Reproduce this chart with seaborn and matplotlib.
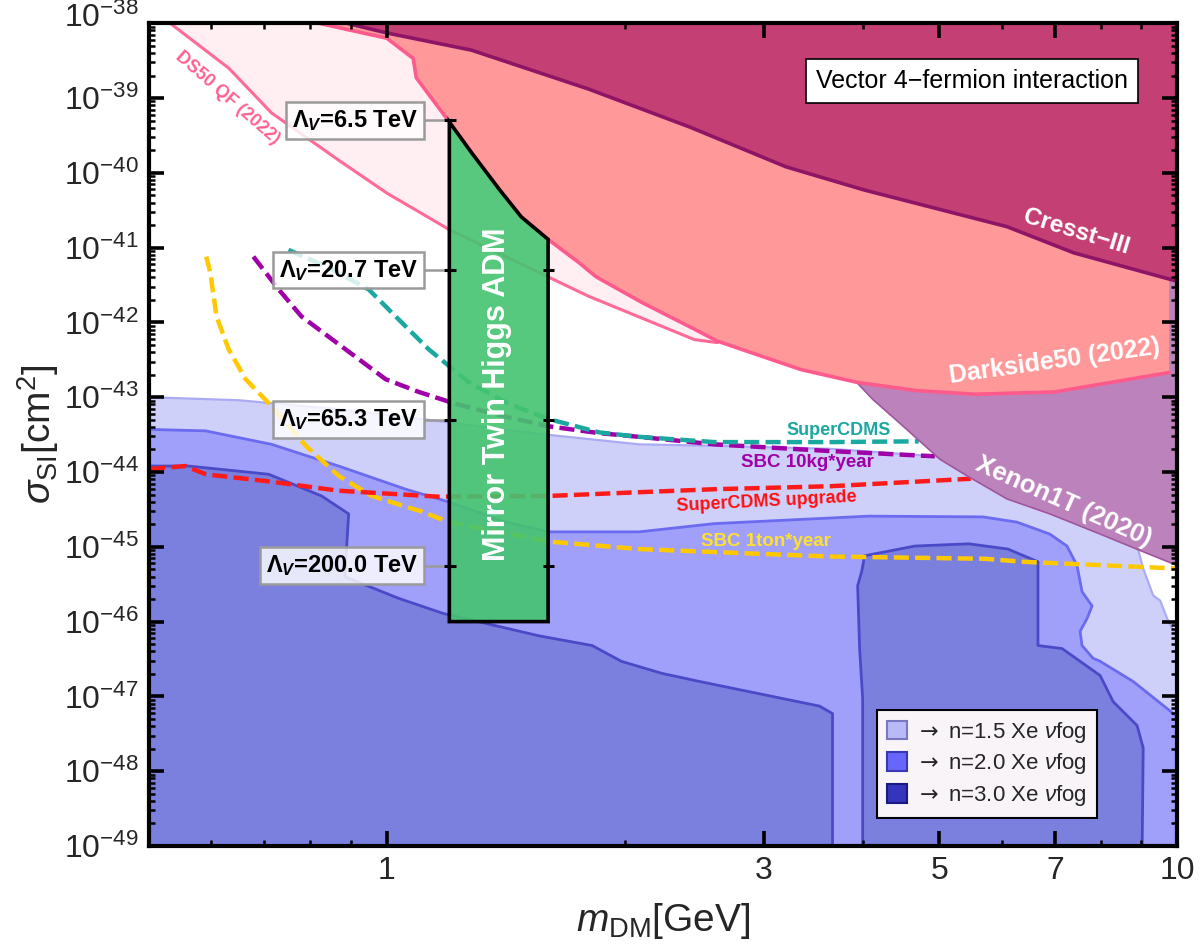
import numpy as np
import matplotlib
matplotlib.use("Agg")
import matplotlib.pyplot as plt
import seaborn as sns
from matplotlib.patches import Patch
from matplotlib.ticker import FixedLocator, FixedFormatter, LogLocator, NullFormatter

# ---------------- data: mass in GeV, log10(sigma / cm^2) ----------------
cresst_m = [0.89, 1.0, 1.28, 1.80, 2.42, 3.20, 4.02, 6.09, 7.40, 10.0]
cresst_ls = [-38.0, -38.13, -38.36, -38.88, -39.39, -39.92, -40.23, -40.72, -41.07, -41.45]

darkside_m = [0.82, 1.0, 1.08, 1.09, 1.20, 1.28, 1.39, 1.48, 1.60, 1.75, 1.84, 2.10,
              2.45, 2.62, 3.34, 3.93, 4.66, 5.55, 6.99, 9.77]
darkside_ls = [-38.0, -38.2, -38.47, -38.73, -39.32, -39.73, -40.23, -40.59, -40.89, -41.2,
               -41.39, -41.73, -42.09, -42.25, -42.63, -42.8, -42.91, -42.96, -42.93, -42.67]

ds50qf_m = [0.532, 0.631, 0.715, 0.869, 1.0, 1.2, 1.80, 2.45, 2.62]
ds50qf_ls = [-38.0, -38.6, -39.2, -39.83, -40.27, -40.76, -41.65, -42.23, -42.27]

xenon_m = [3.53, 3.93, 4.12, 4.46, 5.01, 5.42, 6.09, 6.90, 7.99, 8.98, 10.0]
xenon_ls = [-42.49, -42.8, -43.03, -43.35, -43.83, -44.05, -44.36, -44.56, -44.83, -45.05, -45.25]

fog15_m = [0.5, 0.649, 0.869, 1.164, 1.558, 2.086, 2.597, 3.643, 4.935, 5.967, 7.536,
           8.593, 8.925, 9.057, 9.324, 9.517, 9.712, 10.0]
fog15_ls = [-43.0, -43.04, -43.16, -43.32, -43.49, -43.63, -43.65, -43.69, -43.79, -43.93,
            -44.36, -44.76, -45.04, -45.29, -45.65, -45.72, -45.96, -46.23]

fog20_m = [0.5, 0.59, 0.715, 0.869, 1.057, 1.198, 1.415, 1.605, 2.086, 2.597, 4.071, 5.676,
           6.27, 6.90, 7.254, 7.469, 7.579, 7.804, 7.69, 7.536, 7.579, 7.826, 7.988, 8.795, 10.0]
fog20_ls = [-43.43, -43.45, -43.63, -43.92, -44.23, -44.4, -44.67, -44.8, -44.8, -44.69,
            -44.59, -44.6, -44.67, -44.83, -44.99, -45.25, -45.6, -45.79, -45.96, -46.13,
            -46.32, -46.49, -46.53, -46.8, -47.27]

fog30a_m = [0.5, 0.561, 0.709, 0.827, 0.895, 0.885, 1.036, 1.178, 1.558, 1.819, 1.98,
            2.225, 2.486, 3.528, 3.664, 3.664]
fog30a_ls = [-43.92, -43.92, -44.03, -44.32, -44.56, -45.4, -45.69, -45.89, -46.19, -46.32,
             -46.53, -46.69, -46.8, -47.13, -47.23, -49.0]

fog30b_m = [4.0, 4.0, 3.965, 3.942, 3.989, 4.023, 4.656, 5.45, 6.107, 6.666, 6.666, 7.15,
            7.988, 8.298, 8.898, 9.057, 9.03]
fog30b_ls = [-49.0, -47.03, -46.36, -45.52, -45.33, -45.12, -44.99, -44.96, -45.03, -45.2,
             -46.32, -46.36, -46.72, -47.07, -47.39, -47.69, -49.0]

scdms_m = [0.751, 0.845, 0.949, 1.015, 1.13, 1.27, 1.428, 1.60, 1.856, 2.086, 2.597, 3.643, 4.71]
scdms_ls = [-41.03, -41.27, -41.56, -41.87, -42.36, -42.8, -43.09, -43.29, -43.47, -43.53,
            -43.6, -43.6, -43.59]

sbc10_m = [0.678, 0.73, 0.78, 0.869, 0.997, 1.098, 1.223, 1.387, 1.605, 1.856, 2.086,
           2.597, 3.643, 4.935]
sbc10_ls = [-41.12, -41.56, -41.92, -42.29, -42.76, -42.93, -43.09, -43.24, -43.39, -43.48,
            -43.53, -43.63, -43.72, -43.79]

scdmsup_m = [0.502, 0.556, 0.59, 0.715, 0.869, 1.164, 1.605, 2.086, 2.597, 3.643, 5.482]
scdmsup_ls = [-43.96, -43.92, -44.03, -44.13, -44.25, -44.33, -44.32, -44.27, -44.23,
              -44.19, -44.09]

sbc1t_m = [0.591, 0.598, 0.609, 0.631, 0.663, 0.715, 0.79, 0.869, 0.957, 1.108, 1.198,
           1.605, 2.086, 2.597, 3.643, 5.71, 6.381, 10.0]
sbc1t_ls = [-41.12, -41.33, -41.92, -42.36, -42.76, -43.12, -43.65, -44.05, -44.32, -44.53,
            -44.67, -44.93, -45.03, -45.07, -45.13, -45.16, -45.2, -45.29]

adm_m = [1.2, 1.2, 1.28, 1.39, 1.48, 1.6, 1.6]
adm_ls = [-46.0, -39.32, -39.73, -40.23, -40.59, -40.89, -46.0]

lam_values = ["6.5", "20.7", "65.3", "200.0"]
lam_ls = [-39.30, -41.30, -43.30, -45.25]

x_ticks = [1, 3, 5, 7, 10]
x_ticklabels = ['1', '3', '5', '7', '10']
x_minor = [0.6, 0.7, 0.8, 0.9, 2, 4, 6, 8, 9]
y_exponents = list(range(-49, -37))

legend_labels = [r"$\mathsf{\rightarrow}$ n=1.5 Xe $\nu$fog",
                 r"$\mathsf{\rightarrow}$ n=2.0 Xe $\nu$fog",
                 r"$\mathsf{\rightarrow}$ n=3.0 Xe $\nu$fog"]

# ---------------- style ----------------
sns.set_theme(style="ticks")
plt.rcParams['font.family'] = ['Liberation Sans', 'DejaVu Sans']
plt.rcParams['mathtext.fontset'] = 'custom'
plt.rcParams['mathtext.rm'] = 'Liberation Sans'
plt.rcParams['mathtext.it'] = 'Liberation Sans:italic'
plt.rcParams['mathtext.bf'] = 'Liberation Sans:bold'
plt.rcParams['mathtext.bfit'] = 'Liberation Sans:italic:bold'
plt.rcParams['mathtext.sf'] = 'DejaVu Sans'
plt.rcParams['axes.unicode_minus'] = True


def S(a):
    return 10.0 ** np.asarray(a, dtype=float)


BOT, TOP = 1e-49, 1e-38

fig, ax = plt.subplots(figsize=(12, 9.48), dpi=100)
fig.subplots_adjust(left=0.124, right=0.981, bottom=0.1076, top=0.9755)
ax.set_xscale('log')
ax.set_yscale('log')
ax.set_xlim(0.5, 10)
ax.set_ylim(BOT, TOP)


def line(mm, ll, **kw):
    sns.lineplot(x=mm, y=S(ll), sort=False, estimator=None, ax=ax, **kw)


# neutrino fogs
ax.fill(list(fog15_m) + [10, 0.5], list(S(fog15_ls)) + [BOT, BOT], fc='#CFD0FA', ec='none', zorder=1)
line(fog15_m, fog15_ls, color='#ABABF4', lw=1.6, zorder=1.1)
ax.fill(list(fog20_m) + [10, 0.5], list(S(fog20_ls)) + [BOT, BOT], fc='#A0A0FA', ec='none', zorder=2)
line(fog20_m, fog20_ls, color='#6B6BF0', lw=2, zorder=2.1)
ax.fill(list(fog30a_m) + [0.5], list(S(fog30a_ls)) + [BOT], fc='#7B80DF', ec='none', zorder=3)
line(fog30a_m, fog30a_ls, color='#4A4AC8', lw=2, zorder=3.1)
ax.fill(fog30b_m, S(fog30b_ls), fc='#7B80DF', ec='none', zorder=3)
line(fog30b_m, fog30b_ls, color='#4A4AC8', lw=2, zorder=3.1)

# dashed projections
dash = (0, (3.4, 1.4))
for mm, ll, col in [(sbc1t_m, sbc1t_ls, '#FFC800'),
                    (scdmsup_m, scdmsup_ls, '#FF1A1A'),
                    (sbc10_m, sbc10_ls, '#A000A8'),
                    (scdms_m, scdms_ls, '#1AA8A0')]:
    line(mm, ll, color=col, lw=3.2, linestyle=dash, zorder=3.5)

# exclusion regions
ax.fill_between(xenon_m, S(xenon_ls), TOP, fc='#BC82BB', ec='none', zorder=4)
line(xenon_m, xenon_ls, color='#A0559F', lw=1.2, zorder=4.1)

ax.fill_between(ds50qf_m, S(ds50qf_ls), TOP, fc='#FFEEF2', ec='none', zorder=5)
line(ds50qf_m, ds50qf_ls, color='#FF6A96', lw=2.2, zorder=5.1)

ax.fill_between(darkside_m, S(darkside_ls), TOP, fc='#FF9899', ec='none', zorder=6)
line(darkside_m, darkside_ls, color='#FF5A8C', lw=2.6, zorder=6.1)

ax.fill_between(cresst_m, S(cresst_ls), TOP, fc='#C43F74', ec='none', zorder=7)
line(cresst_m, cresst_ls, color='#8E1466', lw=2.6, zorder=7.1)

# ADM region
ax.fill(adm_m, S(adm_ls), fc=(0.27, 0.77, 0.44, 0.9), ec='black', lw=2.6, zorder=9)
ax.text(1.38, S(-42.96), "Mirror Twin Higgs ADM", rotation=90, ha='center', va='center',
        color='white', fontsize=22, fontweight='bold', zorder=10)

for val, lv in zip(lam_values, lam_ls):
    y = S(lv)
    ax.plot([1.114, 1.181], [y, y], color='#9A9A9A', lw=1.8, zorder=9.5, solid_capstyle='butt')
    ax.plot([1.181, 1.222], [y, y], color='black', lw=2.2, zorder=9.6, solid_capstyle='butt')
    if lv < adm_ls[-2]:
        ax.plot([1.576, 1.626], [y, y], color='black', lw=2.2, zorder=9.6, solid_capstyle='butt')
    ax.text(1.095, y, r"$\mathbf{\Lambda}_{\mathbfit{V}}$=" + val + " TeV", ha='right', va='center',
            fontsize=17, fontweight='bold', color='black', zorder=10,
            bbox=dict(boxstyle='square,pad=0.25', fc=(1, 1, 1, 0.82), ec='#9A9A9A', lw=1.8))

# region / line labels
ax.text(0.629, S(-39.0), "DS50 QF (2022)", rotation=-41, rotation_mode='anchor', ha='center',
        va='center', color='#FF6090', fontsize=13, fontweight='bold', zorder=10)
ax.text(7.45, S(-40.79), "Cresst−III", rotation=-17, rotation_mode='anchor', ha='center',
        va='center', color='white', fontsize=17.5, fontweight='bold', zorder=10)
ax.text(7.0, S(-42.52), "Darkside50 (2022)", rotation=8, rotation_mode='anchor', ha='center',
        va='center', color='white', fontsize=18, fontweight='bold', zorder=10)
ax.text(7.19, S(-44.39), "Xenon1T (2020)", rotation=-24, rotation_mode='anchor', ha='center',
        va='center', color='white', fontsize=18.5, fontweight='bold', zorder=10)
ax.text(3.73, S(-43.44), "SuperCDMS", ha='center', va='center', color='#1AA8A0',
        fontsize=13, fontweight='bold', zorder=10)
ax.text(3.41, S(-43.87), "SBC 10kg*year", ha='center', va='center', color='#A000A8',
        fontsize=13.5, fontweight='bold', zorder=10)
ax.text(3.02, S(-44.40), "SuperCDMS upgrade", rotation=3, rotation_mode='anchor', ha='center',
        va='center', color='#FF1010', fontsize=13, fontweight='bold', zorder=10)
ax.text(3.02, S(-44.93), "SBC 1ton*year", ha='center', va='center', color='#FFE030',
        fontsize=13.5, fontweight='bold', zorder=10)

ax.text(0.80, 0.93, "Vector 4−fermion interaction", transform=ax.transAxes, ha='center', va='center',
        fontsize=18, color='black', zorder=11,
        bbox=dict(boxstyle='square,pad=0.4', fc='white', ec='black', lw=1.2))

# legend
handles = [Patch(fc='#B9B9F7', ec='#7878C0', lw=1.5, label=legend_labels[0]),
           Patch(fc='#6666FA', ec='#3838B0', lw=1.5, label=legend_labels[1]),
           Patch(fc='#3434BC', ec='#1A1A80', lw=1.5, label=legend_labels[2])]
leg = ax.legend(handles=handles, loc='lower right', bbox_to_anchor=(0.922, 0.034), frameon=True,
                fancybox=False, edgecolor='black', facecolor='#F8F4F8', framealpha=1, fontsize=16,
                handlelength=0.9, handleheight=0.9, handletextpad=0.4, labelspacing=0.3,
                borderpad=0.45, borderaxespad=0)
leg.get_frame().set_linewidth(1.5)
leg.set_zorder(12)

# axes / ticks
ax.xaxis.set_major_locator(FixedLocator(x_ticks))
ax.xaxis.set_major_formatter(FixedFormatter(x_ticklabels))
ax.xaxis.set_minor_locator(FixedLocator(x_minor))
ax.xaxis.set_minor_formatter(NullFormatter())
ylabels = [r"$10^{%d}$" % e for e in y_exponents]
top_label = ylabels[-1]
ylabels[-1] = ""
ax.yaxis.set_major_locator(FixedLocator([10.0 ** e for e in y_exponents]))
ax.yaxis.set_major_formatter(FixedFormatter(ylabels))
ax.yaxis.set_minor_locator(LogLocator(base=10, subs=np.arange(2, 10), numticks=30))
ax.yaxis.set_minor_formatter(NullFormatter())
ax.tick_params(which='both', direction='in', top=True, right=True, color='black')
ax.tick_params(which='major', length=11, width=2.6, labelsize=23, pad=7)
ax.tick_params(which='minor', length=4.5, width=1.8)
ax.xaxis.set_zorder(25)
ax.yaxis.set_zorder(25)
for sp in ax.spines.values():
    sp.set_linewidth(3)
    sp.set_color('black')
    sp.set_zorder(26)

# top y label placed just inside the figure edge
pos = ax.get_position()
fig.text(pos.x0 - 9.7 / 1200, 1 - 3 / 948, top_label, ha='right', va='top', fontsize=23)

ax.set_xlabel(r"$m_{\mathrm{DM}}$[GeV]", fontsize=28, labelpad=11)
ax.set_ylabel(r"$\sigma_{\mathrm{SI}}$[cm$^2$]", fontsize=28, labelpad=2)

fig.savefig("out.png", dpi=100)
